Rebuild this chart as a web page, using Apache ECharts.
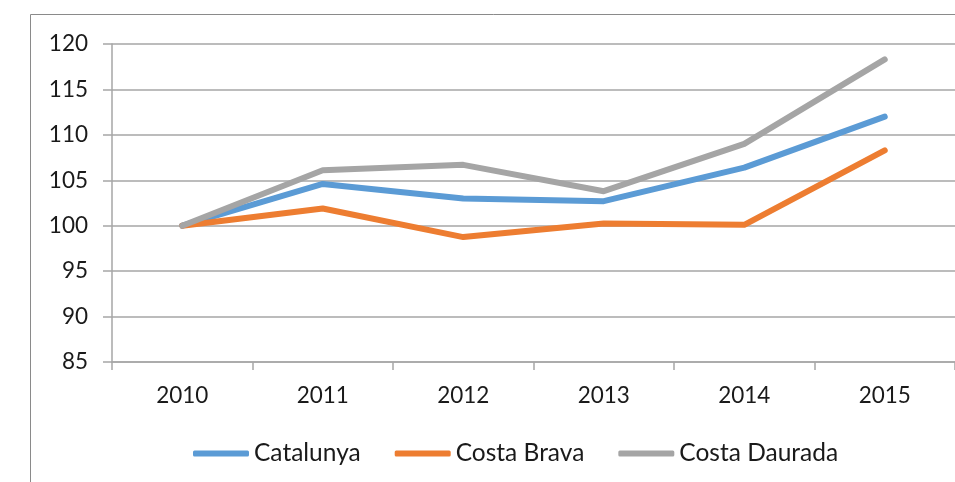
<!DOCTYPE html>
<html>
<head>
<meta charset="utf-8">
<script src="https://cdn.jsdelivr.net/npm/echarts@6/dist/echarts.min.js"></script>
<style>html,body{margin:0;padding:0;background:#fff;}#c{width:955px;height:482px;}</style>
</head>
<body>
<div id="c"></div>
<script>
var categories = ['2010', '2011', '2012', '2013', '2014', '2015'];
var catalunya = [100, 104.6, 103.0, 102.7, 106.4, 112.0];
var costaBrava = [100, 101.9, 98.75, 100.25, 100.1, 108.3];
var costaDaurada = [100, 106.1, 106.7, 103.8, 109.0, 118.3];
var seriesNames = ['Catalunya', 'Costa Brava', 'Costa Daurada'];
var colors = ['#5B9BD5', '#ED7D31', '#A5A5A5'];

var font = 'Lato, "Open Sans", sans-serif';
var chart = echarts.init(document.getElementById('c'));
function mk(name, data, color) {
  return {
    name: name, type: 'line', data: data, symbol: 'none',
    lineStyle: { width: 6, color: color, cap: 'round', join: 'round' },
    itemStyle: { color: color }, animation: false
  };
}
chart.setOption({
  animation: false,
  graphic: [{
    type: 'rect', silent: true,
    shape: { x: 30.5, y: 14.5, width: 1000, height: 1000 },
    style: { fill: 'none', stroke: '#8a8a8a', lineWidth: 1 }
  }],
  grid: { left: 112, top: 44, width: 849, height: 318, containLabel: false },
  legend: {
    data: seriesNames, bottom: 11, left: 188,
    icon: 'roundRect', itemWidth: 56, itemHeight: 6, itemGap: 34,
    textStyle: { fontFamily: font, fontSize: 24.5, color: '#1a1a1a' }
  },
  xAxis: {
    type: 'category', data: categories, boundaryGap: true,
    axisLine: { lineStyle: { color: '#a6a6a6', width: 1.5 } },
    axisTick: { show: true, length: 8, lineStyle: { color: '#a6a6a6', width: 1.5 } },
    axisLabel: { fontFamily: font, fontSize: 22.5, color: '#1a1a1a', margin: 22 }
  },
  yAxis: {
    type: 'value', min: 85, max: 120, interval: 5,
    axisLine: { show: true, lineStyle: { color: '#a6a6a6', width: 1.5 } },
    axisTick: { show: true, length: 9, lineStyle: { color: '#a6a6a6', width: 1.5 } },
    splitLine: { lineStyle: { color: '#a6a6a6', width: 1.5 } },
    axisLabel: { fontFamily: font, fontSize: 22.5, color: '#1a1a1a', margin: 24 }
  },
  series: [
    mk(seriesNames[0], catalunya, colors[0]),
    mk(seriesNames[1], costaBrava, colors[1]),
    mk(seriesNames[2], costaDaurada, colors[2])
  ]
});
</script>
</body>
</html>
